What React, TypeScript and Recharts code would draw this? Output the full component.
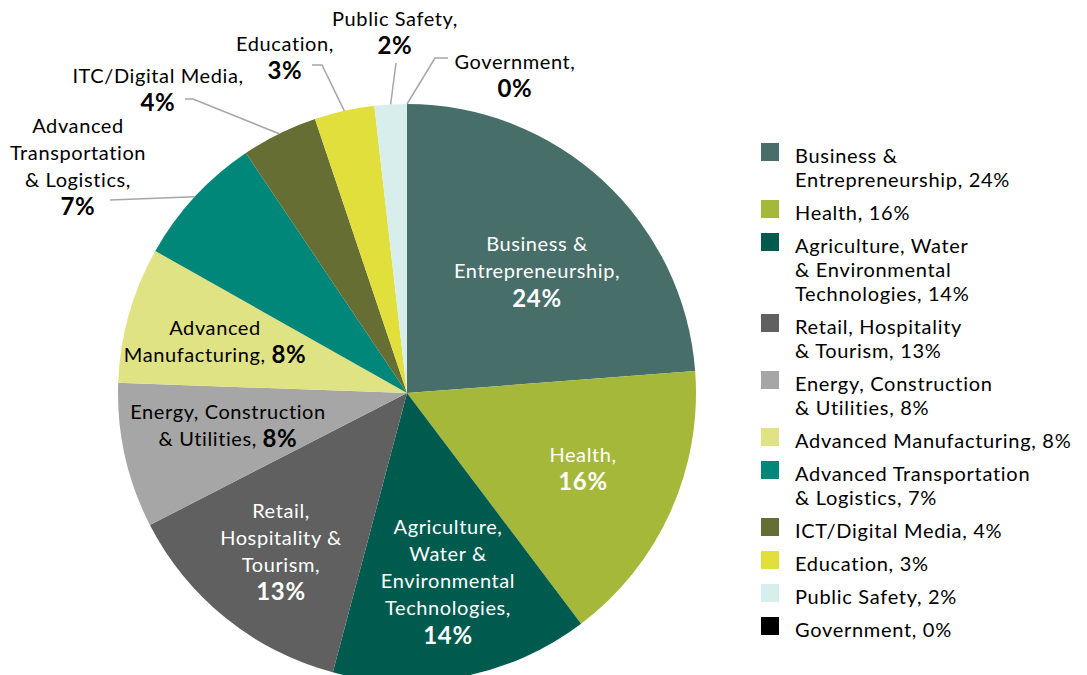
import { PieChart, Pie, Cell, Legend } from 'recharts';

const FONT = 'Lato, "Noto Sans", sans-serif';

const CATEGORIES = [
  'Business & Entrepreneurship',
  'Health',
  'Agriculture, Water & Environmental Technologies',
  'Retail, Hospitality & Tourism',
  'Energy, Construction & Utilities',
  'Advanced Manufacturing',
  'Advanced Transportation & Logistics',
  'ICT/Digital Media',
  'Education',
  'Public Safety',
  'Government',
];

const SHARES = [23.75, 15.9, 14.4, 13.3, 8.1, 7.6, 7.4, 4.25, 3.35, 1.8, 0];

const COLORS = [
  '#486E6A',
  '#A5B83A',
  '#005B4F',
  '#606060',
  '#A6A6A6',
  '#E0E384',
  '#00877A',
  '#666E33',
  '#E0DF3C',
  '#D8EEEC',
  '#000000',
];

// legend text, percent gets appended to the last line
const LEGEND_LINES = [
  ['Business &', 'Entrepreneurship, '],
  ['Health, '],
  ['Agriculture, Water', '& Environmental', 'Technologies, '],
  ['Retail, Hospitality', '& Tourism, '],
  ['Energy, Construction', '& Utilities, '],
  ['Advanced Manufacturing, '],
  ['Advanced Transportation', '& Logistics, '],
  ['ICT/Digital Media, '],
  ['Education, '],
  ['Public Safety, '],
  ['Government, '],
];

// data labels on the pie (note the original says "ITC")
const PIE_LABEL_LINES = [
  ['Business &', 'Entrepreneurship,'],
  ['Health,'],
  ['Agriculture,', 'Water &', 'Environmental', 'Technologies,'],
  ['Retail,', 'Hospitality &', 'Tourism,'],
  ['Energy, Construction', '& Utilities, '],
  ['Advanced', 'Manufacturing, '],
  ['Advanced', 'Transportation', '& Logistics,'],
  ['ITC/Digital Media,'],
  ['Education,'],
  ['Public Safety,'],
  ['Government,'],
];
const PCT_INLINE = [false, false, false, false, true, true, false, false, false, false, false];
const LABEL_LIGHT = [true, true, true, true, false, false, false, false, false, false, false];

// label block centre, relative to the pie centre
const LABEL_OFFSET: [number, number][] = [
  [130, -123], [176, 74], [41, 187], [-126, 157], [-179, 31], [-192, -53],
  [-329, -228], [-249, -305], [-122, -337], [-12, -362], [108, -319],
];
// leader line bends (after the point on the pie edge), relative to the pie centre
const LEADERS: ([number, number][] | null)[] = [
  null, null, null, null, null, null,
  [[-297, -193]],
  [[-214, -294], [-222, -294]],
  [[-85, -328], [-95, -328]],
  [[-11, -330]],
  [[28, -335], [41, -335]],
];

const data = CATEGORIES.map((name, i) => ({ name, value: SHARES[i] }));
const pct = (v: number) => `${Math.round(v)}%`;

const LINE_H = 27;
const RAD = Math.PI / 180;

function renderLabel(props: any) {
  const { cx, cy, midAngle, outerRadius, index } = props;
  const lines = PIE_LABEL_LINES[index];
  const inline = PCT_INLINE[index];
  const n = inline ? lines.length : lines.length + 1;
  const [dx, dy] = LABEL_OFFSET[index];
  const x = cx + dx;
  const y0 = cy + dy - ((n - 1) * LINE_H) / 2;
  const fill = LABEL_LIGHT[index] ? '#ffffff' : '#000000';
  const p = pct(SHARES[index]);
  const leader = LEADERS[index];
  let pts = '';
  if (leader) {
    const ex = cx + outerRadius * Math.cos(-midAngle * RAD);
    const ey = cy + outerRadius * Math.sin(-midAngle * RAD);
    pts = [[ex, ey], ...leader.map(([a, b]) => [cx + a, cy + b])].map((q) => q.join(',')).join(' ');
  }
  return (
    <g key={`lbl-${index}`}>
      {leader && <polyline points={pts} fill="none" stroke="#A6A6A6" strokeWidth={1.5} />}
      <text x={x} y={y0} textAnchor="middle" fill={fill} fontFamily={FONT} fontSize={20} letterSpacing={0.6}>
        {lines.map((l, i) => (
          <tspan key={i} x={x} y={y0 + i * LINE_H} dominantBaseline="central">
            {l}
            {inline && i === lines.length - 1 && (
              <tspan fontWeight="bold" fontSize={24}>{p}</tspan>
            )}
          </tspan>
        ))}
        {!inline && (
          <tspan x={x} y={y0 + lines.length * LINE_H} dominantBaseline="central" fontWeight="bold" fontSize={24}>
            {p}
          </tspan>
        )}
      </text>
    </g>
  );
}

const renderLegend = () => (
  <div style={{ fontFamily: FONT, fontSize: 20, lineHeight: '24px', letterSpacing: 0.7, color: '#000' }}>
    {LEGEND_LINES.map((lines, i) => (
      <div key={i} style={{ display: 'flex', alignItems: 'flex-start', marginBottom: 9 }}>
        <div style={{ width: 18, height: 18, backgroundColor: COLORS[i], flexShrink: 0 }} />
        <div style={{ marginLeft: 16, whiteSpace: 'nowrap' }}>
          {lines.map((l, j) => (
            <div key={j}>
              {l}
              {j === lines.length - 1 && pct(SHARES[i])}
            </div>
          ))}
        </div>
      </div>
    ))}
  </div>
);

export default function App() {
  return (
    <div style={{ width: 1087, height: 675, background: '#fff' }}>
      <style>{'body{margin:0}'}</style>
      <PieChart width={1087} height={675} margin={{ top: 0, right: 0, bottom: 0, left: 0 }}>
        <Pie
          data={data}
          dataKey="value"
          nameKey="name"
          cx={407}
          cy={393}
          outerRadius={289}
          startAngle={90}
          endAngle={-270}
          stroke="none"
          label={renderLabel}
          labelLine={false}
          isAnimationActive={false}
        >
          {data.map((d, i) => (
            <Cell key={d.name} fill={COLORS[i]} />
          ))}
        </Pie>
        <Legend
          content={renderLegend}
          wrapperStyle={{ position: 'absolute', left: 761, top: 143, width: 326 }}
        />
      </PieChart>
    </div>
  );
}
